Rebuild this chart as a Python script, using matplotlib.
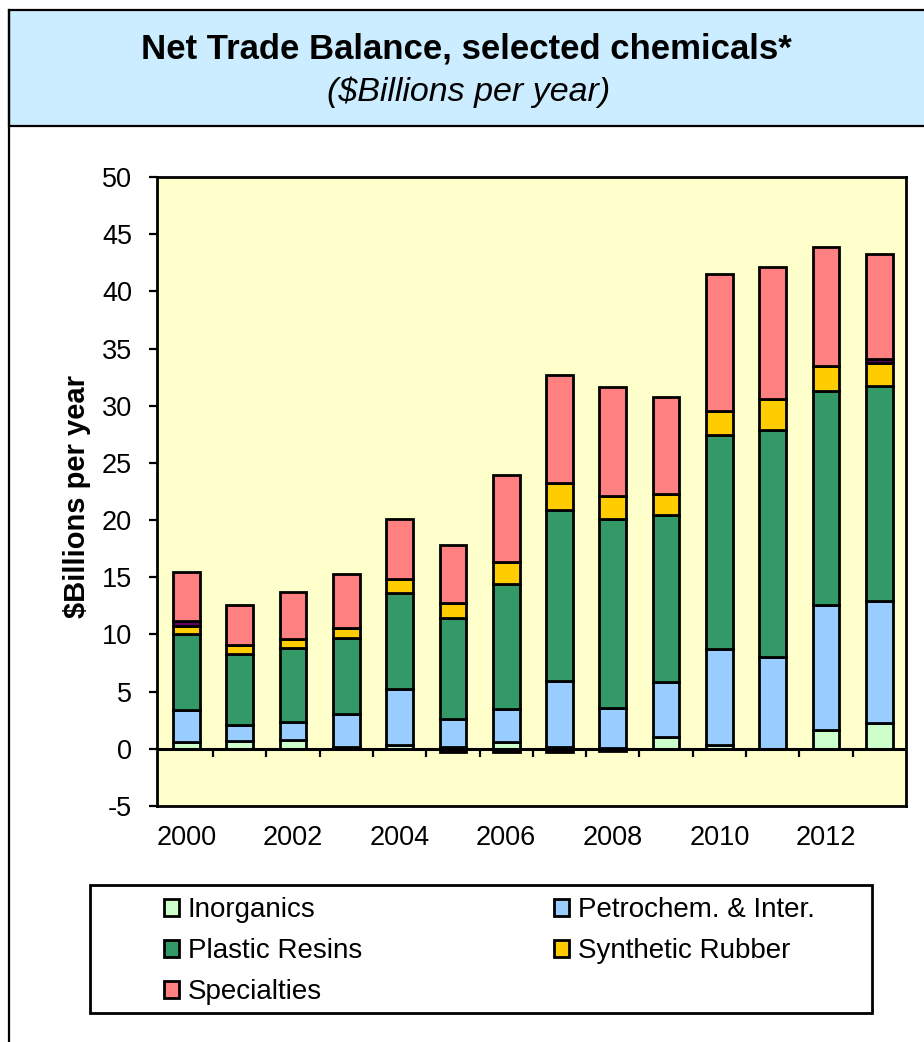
import matplotlib
matplotlib.use("Agg")
import matplotlib.pyplot as plt
import numpy as np
from matplotlib import font_manager
from matplotlib.patches import Rectangle
from matplotlib.lines import Line2D

# Data ($ billions per year)
years = np.arange(2000, 2014)
inorganics = [0.6, 0.7, 0.8, 0.15, 0.35, 0.2, 0.6, 0.15, 0.1, 1.0, 0.35, 0.0, 1.65, 2.3]
petrochem = [2.8, 1.35, 1.55, 2.9, 4.85, 2.4, 2.9, 5.8, 3.45, 4.85, 8.35, 8.0, 10.9, 10.65]
plastic_resins = [6.6, 6.25, 6.45, 6.6, 8.4, 8.8, 10.9, 14.9, 16.55, 14.6, 18.7, 19.9, 18.7, 18.75]
synthetic_rubber = [0.75, 0.8, 0.8, 0.95, 1.25, 1.35, 1.95, 2.4, 2.0, 1.8, 2.15, 2.65, 2.25, 2.0]
other = [0.4, 0.0, 0.0, 0.0, 0.0, -0.3, -0.3, -0.3, -0.2, 0.0, 0.0, 0.0, 0.0, 0.4]
specialties = [4.3, 3.5, 4.1, 4.7, 5.25, 5.1, 7.55, 9.4, 9.5, 8.55, 11.95, 11.55, 10.4, 9.2]

series = [
    ("Inorganics", inorganics, "#CCFFCC"),
    ("Petrochem. & Inter.", petrochem, "#99CCFF"),
    ("Plastic Resins", plastic_resins, "#339966"),
    ("Synthetic Rubber", synthetic_rubber, "#FFCC00"),
    (None, other, "#660066"),
    ("Specialties", specialties, "#FF8080"),
]

year_labels = [str(y) if y % 2 == 0 else "" for y in years]

# Fonts: narrow Arial look for ticks / legend if available
names = {f.name for f in font_manager.fontManager.ttflist}
if "Liberation Sans Narrow" in names:
    small_font, tick_size, leg_size = "Liberation Sans Narrow", 22, 22
else:
    small_font, tick_size, leg_size = "Liberation Sans", 19.5, 20
plt.rcParams["font.family"] = ["Liberation Sans", "DejaVu Sans"]
plt.rcParams["axes.unicode_minus"] = False

W, H = 924, 1042
fig = plt.figure(figsize=(W / 100, H / 100), dpi=100)

# Title band and outer border
fig.patches.append(Rectangle((9 / W, 1 - 126 / H), 1.0, 116 / H, transform=fig.transFigure,
                             facecolor="#CCECFF", edgecolor="black", linewidth=1.6))
fig.lines.append(Line2D([9 / W, 9 / W], [0, 1 - 10 / H], transform=fig.transFigure,
                        color="black", linewidth=1.6))
fig.text(0.505, 1 - 49 / H, "Net Trade Balance, selected chemicals*", ha="center", va="center",
         fontsize=25, fontweight="bold")
fig.text(0.507, 1 - 92 / H, "($Billions per year)", ha="center", va="center",
         fontsize=24.5, style="italic")

ax = fig.add_axes([157 / W, 1 - 806 / H, (906 - 157) / W, (806 - 177) / H])
ax.set_facecolor("#FFFFCC")

pos = np.zeros(len(years))
neg = np.zeros(len(years))
handles = {}
for name, vals, color in series:
    v = np.array(vals)
    bottom = np.where(v >= 0, pos, neg)
    bars = ax.bar(years, v, width=0.5, bottom=bottom, color=color, edgecolor="black",
                  linewidth=2.0, zorder=3)
    pos = pos + np.where(v >= 0, v, 0)
    neg = neg + np.where(v < 0, v, 0)
    if name:
        handles[name] = bars

ax.set_xlim(years[0] - 0.55, years[-1] + 0.5)
ax.set_ylim(-5, 50)
ax.set_yticks(np.arange(-5, 51, 5))
ax.set_xticks(years)
ax.set_xticklabels(year_labels)
ax.tick_params(axis="y", direction="out", length=6, width=1.6, pad=12)
ax.tick_params(axis="x", length=0, pad=14)
for lab in ax.get_xticklabels() + ax.get_yticklabels():
    lab.set_fontfamily(small_font)
    lab.set_fontsize(tick_size)
for sp in ax.spines.values():
    sp.set_linewidth(2.0)

# category axis crossing at zero, with tick marks between categories
ax.axhline(0, color="black", linewidth=2.2, zorder=4)
ax.vlines(years[:-1] + 0.5, -0.7, 0, color="black", linewidth=1.6, zorder=4)

fig.text(77 / W, 1 - 497 / H, "$Billions per year", rotation=90, ha="center", va="center",
         fontsize=21, fontweight="bold")

# Legend box with two columns, filled row by row
fig.patches.append(Rectangle((90 / W, 1 - 1013 / H), (872 - 90) / W, (1013 - 885) / H,
                             transform=fig.transFigure, facecolor="white", edgecolor="black",
                             linewidth=2.0))
leg_kw = dict(frameon=False, loc="upper left", borderpad=0, borderaxespad=0,
              handlelength=0.55, handleheight=0.55, handletextpad=0.3, labelspacing=0.54,
              prop={"family": small_font, "size": leg_size})
col1 = ["Inorganics", "Plastic Resins", "Specialties"]
col2 = ["Petrochem. & Inter.", "Synthetic Rubber"]
fig.legend([handles[n] for n in col1], col1, bbox_to_anchor=(164 / W, 1 - 897 / H), **leg_kw)
fig.legend([handles[n] for n in col2], col2, bbox_to_anchor=(554 / W, 1 - 897 / H), **leg_kw)

fig.savefig("out.png", dpi=100)
